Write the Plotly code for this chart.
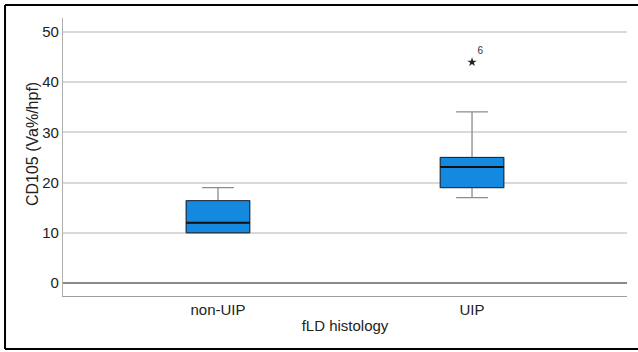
import plotly.graph_objects as go

categories = ["non-UIP", "UIP"]
lower_whisker = [10, 17]
q1 = [10, 19]
median = [12, 23.1]
q3 = [16.4, 25]
upper_whisker = [19, 34.1]
outlier_cat = ["UIP"]
outlier_val = [44]
outlier_label = ["6"]

y_ticks = [0, 10, 20, 30, 40, 50]

FONT = "Liberation Sans, Arial, sans-serif"
BOX_FILL = "#1589e0"
fig = go.Figure()

# whiskers (gray)
fig.add_trace(go.Box(
    x=categories, q1=q1, median=median, q3=q3,
    lowerfence=lower_whisker, upperfence=upper_whisker,
    fillcolor=BOX_FILL, line=dict(color="#8c8c8c", width=1.3),
    width=0.25, whiskerwidth=0.5, boxpoints=False, showlegend=False,
    hoverinfo="skip"))
# box outline (dark)
fig.add_trace(go.Box(
    x=categories, q1=q1, median=median, q3=q3,
    lowerfence=q1, upperfence=q3,
    fillcolor=BOX_FILL, line=dict(color="#1d2a3a", width=1),
    width=0.25, whiskerwidth=0, boxpoints=False, showlegend=False,
    hoverinfo="skip"))
# median (thicker)
fig.add_trace(go.Box(
    x=categories, q1=median, median=median, q3=median,
    lowerfence=median, upperfence=median,
    fillcolor="rgba(0,0,0,0)", line=dict(color="#111111", width=2),
    width=0.25, whiskerwidth=0, boxpoints=False, showlegend=False,
    hoverinfo="skip"))

# outlier
fig.add_trace(go.Scatter(
    x=outlier_cat, y=outlier_val, mode="markers+text",
    marker=dict(symbol="star", size=7, color="#222222"),
    text=outlier_label, textposition="top right",
    textfont=dict(family=FONT, size=10, color="#333333"),
    showlegend=False, cliponaxis=False))

fig.update_layout(
    width=638, height=352,
    margin=dict(l=63, r=11, t=18, b=56),
    paper_bgcolor="white", plot_bgcolor="white",
    boxmode="overlay",
    font=dict(family=FONT, size=15, color="#222222"),
    xaxis=dict(
        type="category", range=[-0.61, 1.61],
        showgrid=False, showline=True, linecolor="#a0a0a0", linewidth=1.3,
        ticks="", tickfont=dict(size=15),
        title=dict(text="fLD histology", font=dict(size=15), standoff=3),
    ),
    yaxis=dict(
        range=[-2.6, 52.8], tickvals=y_ticks,
        showgrid=True, gridcolor="#d9d9d9", gridwidth=1.5,
        zeroline=True, zerolinecolor="#8a8a8a", zerolinewidth=1.5,
        showline=True, linecolor="#b0b0b0", linewidth=1.3,
        ticks="", tickfont=dict(size=15),
    ),
    annotations=[
        dict(text="CD105 (Va%/hpf)", xref="paper", yref="paper",
             x=-0.053, y=0.547, textangle=-90, showarrow=False,
             xanchor="center", yanchor="middle",
             font=dict(family=FONT, size=16, color="#222222")),
    ],
    shapes=[
        dict(type="line", xref="paper", yref="paper",
             x0=-0.1028, x1=1.02, y0=1.0468, y1=1.0468,
             line=dict(color="black", width=2)),
        dict(type="line", xref="paper", yref="paper",
             x0=-0.1028, x1=-0.1028, y0=1.0468, y1=-0.1906,
             line=dict(color="black", width=2)),
        dict(type="line", xref="paper", yref="paper",
             x0=-0.1028, x1=1.02, y0=-0.1906, y1=-0.1906,
             line=dict(color="black", width=2)),
    ],
)

fig.write_html("out.html", config={"displayModeBar": False},
               post_script="document.body.style.margin='0';"
                           "document.body.style.overflow='hidden';")
